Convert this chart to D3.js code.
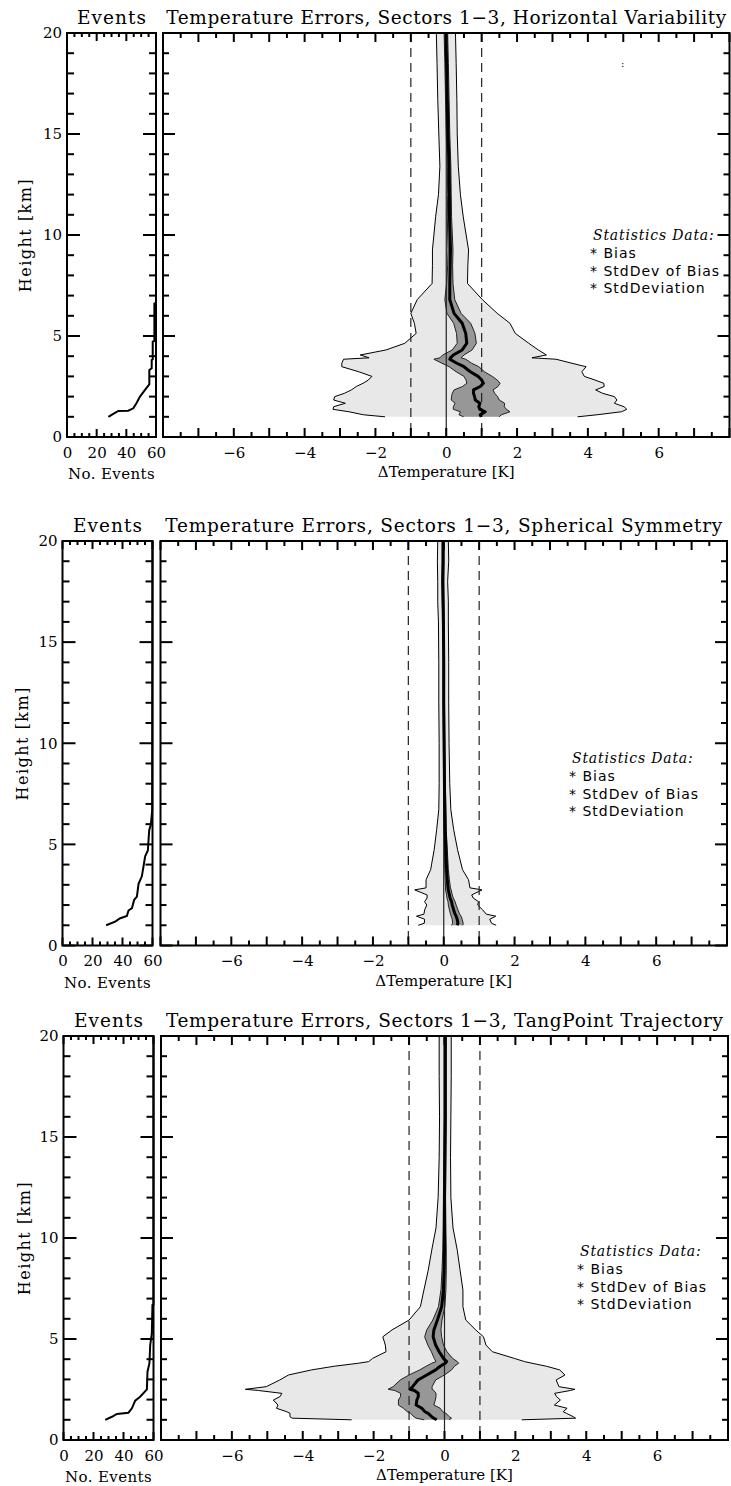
<!DOCTYPE html>
<html>
<head>
  <meta charset="utf-8">
  <title>Temperature Errors, Sectors 1-3</title>
  <script src="https://d3js.org/d3.v7.min.js"></script>
  <style>
    body { margin: 0; background: #fff; }
    text { font-family: "DejaVu Serif", serif; fill: #000; }
  </style>
</head>
<body>

  <svg width="731" height="1486"></svg>

  <script>

    // Horizontal Variability: height [km], bias, std dev of bias, std deviation [K]
    const hvHeight = [1.0, 1.1, 1.25, 1.37, 1.5, 1.67, 1.83, 2.0, 2.16, 2.33, 2.5, 2.66, 2.82, 3.0, 3.23, 3.48, 3.65, 3.85, 3.92, 4.06, 4.31, 4.64, 5.13, 5.63, 6.12, 6.8, 7.6, 8.5, 9.26, 10.9, 12.0, 13.4, 15.0, 16.7, 18.5, 20.0];
    const hvBias = [0.99, 0.96, 1.1, 0.95, 0.92, 0.95, 0.82, 0.8, 0.77, 0.77, 0.96, 1.05, 1.0, 0.9, 0.68, 0.5, 0.3, 0.1, 0.12, 0.2, 0.45, 0.58, 0.55, 0.45, 0.22, 0.1, 0.1, 0.11, 0.12, 0.09, 0.09, 0.08, 0.05, 0.03, 0.01, -0.01];
    const hvSdBias = [0.5, 0.6, 0.7, 0.75, 0.72, 0.7, 0.68, 0.65, 0.6, 0.55, 0.5, 0.47, 0.44, 0.4, 0.4, 0.42, 0.42, 0.45, 0.3, 0.3, 0.28, 0.27, 0.26, 0.24, 0.2, 0.14, 0.09, 0.07, 0.07, 0.06, 0.05, 0.05, 0.05, 0.05, 0.05, 0.05];
    const hvStd = [2.72, 3.3, 3.85, 4.15, 4.1, 3.8, 4.0, 3.95, 3.65, 3.45, 3.5, 3.4, 3.2, 3.0, 3.15, 3.45, 3.25, 3.0, 2.3, 2.63, 2.15, 1.75, 1.4, 1.35, 1.22, 0.92, 0.5, 0.5, 0.51, 0.39, 0.31, 0.26, 0.26, 0.27, 0.27, 0.27];
    const hvEvHeight = [1.0, 1.14, 1.29, 1.3, 1.42, 1.7, 2.0, 2.33, 2.54, 2.6, 3.32, 3.4, 3.81, 3.85, 4.72, 4.75, 6.6, 6.65, 20];
    const hvEvCount = [27.9, 31.2, 34.6, 41.3, 44.7, 47.0, 49.2, 52.6, 54.8, 55.5, 55.5, 57.1, 57.1, 57.8, 57.8, 58.9, 58.9, 60, 60];

    // Spherical Symmetry
    const ssHeight = [1.0, 1.1, 1.3, 1.45, 1.55, 1.76, 2.0, 2.17, 2.35, 2.5, 2.75, 2.85, 3.25, 3.75, 4.74, 5.73, 6.72, 8.0, 10.0, 12.0, 14.0, 16.0, 17.0, 18.0, 19.0, 20.0];
    const ssBias = [0.38, 0.4, 0.38, 0.35, 0.32, 0.28, 0.24, 0.22, 0.18, 0.16, 0.13, 0.12, 0.1, 0.08, 0.06, 0.04, 0.03, 0.02, 0.01, 0.0, 0.0, -0.01, -0.02, -0.03, -0.02, -0.02];
    const ssSdBias = [0.16, 0.15, 0.14, 0.14, 0.13, 0.12, 0.11, 0.1, 0.09, 0.08, 0.08, 0.07, 0.06, 0.05, 0.04, 0.03, 0.03, 0.025, 0.02, 0.02, 0.02, 0.02, 0.02, 0.02, 0.02, 0.02];
    const ssStd = [1.1, 0.95, 0.92, 1.12, 0.88, 0.82, 0.72, 0.76, 0.65, 0.63, 0.95, 0.62, 0.6, 0.45, 0.33, 0.24, 0.17, 0.15, 0.14, 0.14, 0.14, 0.14, 0.15, 0.14, 0.16, 0.15];
    const ssEvHeight = [1.0, 1.18, 1.35, 1.46, 1.73, 1.85, 2.26, 2.42, 3.05, 3.42, 3.91, 4.41, 4.7, 5.7, 5.98, 6.7, 20];
    const ssEvCount = [29.1, 35.1, 38.5, 42.9, 44.0, 46.3, 47.8, 49.6, 50.7, 52.9, 54.0, 55.1, 56.9, 57.8, 58.9, 59.8, 60];

    // TangPoint Trajectory
    const tpHeight = [1.0, 1.08, 1.15, 1.32, 1.4, 1.57, 1.73, 1.98, 2.15, 2.31, 2.45, 2.51, 2.64, 2.97, 3.22, 3.47, 3.65, 3.8, 3.88, 4.04, 4.37, 4.7, 5.11, 5.45, 5.94, 6.6, 7.43, 8.4, 9.4, 10.5, 12.0, 14.0, 16.0, 18.0, 20.0];
    const tpBias = [-0.22, -0.3, -0.36, -0.46, -0.55, -0.64, -0.8, -0.78, -0.74, -0.74, -0.85, -0.97, -0.9, -0.75, -0.5, -0.25, -0.12, 0.02, 0.06, -0.03, -0.15, -0.25, -0.32, -0.3, -0.2, -0.08, -0.03, -0.01, 0.0, 0.0, 0.0, 0.01, 0.02, 0.02, 0.02];
    const tpSdBias = [0.35, 0.5, 0.5, 0.5, 0.5, 0.52, 0.5, 0.52, 0.5, 0.5, 0.55, 0.62, 0.55, 0.5, 0.5, 0.45, 0.4, 0.38, 0.3, 0.26, 0.22, 0.22, 0.24, 0.2, 0.13, 0.09, 0.07, 0.06, 0.05, 0.04, 0.03, 0.03, 0.03, 0.03, 0.03];
    const tpStd = [2.4, 4.0, 4.0, 3.9, 3.9, 4.1, 3.9, 4.05, 3.9, 3.85, 4.4, 4.65, 4.13, 3.9, 3.9, 3.5, 3.0, 2.45, 2.2, 2.0, 1.5, 1.42, 1.42, 1.18, 0.8, 0.6, 0.55, 0.45, 0.36, 0.24, 0.18, 0.16, 0.16, 0.17, 0.17];
    const tpEvHeight = [1.0, 1.15, 1.29, 1.35, 1.57, 1.95, 2.14, 2.51, 3.38, 3.8, 4.7, 5.28, 6.68, 6.7, 20];
    const tpEvCount = [27.8, 32.3, 35.6, 43.3, 45.6, 47.8, 51.1, 55.6, 56.0, 57.3, 57.8, 58.9, 59.3, 60, 60];

    // Axis ticks and legend
    const tempMajor = d3.range(-8, 8.01, 1);
    const tempMinor = d3.range(-7.5, 8, 1);
    const tempLabels = [-6, -4, -2, 0, 2, 4, 6];
    const heightMajor = [0, 5, 10, 15, 20];
    const heightMinor = d3.range(1, 20, 1).filter(v => v % 5 !== 0);
    const eventMajor = [0, 20, 40, 60];
    const eventMinor = d3.range(5, 60, 5).filter(v => v % 20 !== 0);
    const legendItems = ["* Bias", "* StdDev of Bias", "* StdDeviation"];

    const panels = [
      { title: "Temperature Errors, Sectors 1\u22123, Horizontal Variability", titleWidth: 560,
        top: 33, bottom: 437, evLeft: 67, evRight: 156, left: 163, right: 729.5,
        yLabelX: 25, legendX: 590, legendY: 235,
        height: hvHeight, bias: hvBias, sdBias: hvSdBias, std: hvStd,
        evHeight: hvEvHeight, evCount: hvEvCount },
      { title: "Temperature Errors, Sectors 1\u22123, Spherical Symmetry", titleWidth: 557,
        top: 541, bottom: 945.5, evLeft: 62.5, evRight: 152.5, left: 160.5, right: 727,
        yLabelX: 22, legendX: 569, legendY: 758,
        height: ssHeight, bias: ssBias, sdBias: ssSdBias, std: ssStd,
        evHeight: ssEvHeight, evCount: ssEvCount },
      { title: "Temperature Errors, Sectors 1\u22123, TangPoint Trajectory", titleWidth: 557,
        top: 1036, bottom: 1440, evLeft: 63.5, evRight: 153.5, left: 161, right: 728,
        yLabelX: 24, legendX: 577, legendY: 1251,
        height: tpHeight, bias: tpBias, sdBias: tpSdBias, std: tpStd,
        evHeight: tpEvHeight, evCount: tpEvCount }
    ];

    const svg = d3.select("svg");
    const fmt = d3.format("d");

    // tick labels through d3 axes (tick marks drawn separately)
    function labels(g, axis, values, labelFn, pad) {
      g.call(axis.tickValues(values).tickSize(0).tickPadding(pad).tickFormat(labelFn))
        .call(s => s.select(".domain").remove())
        .call(s => s.selectAll(".tick line").remove());
      g.selectAll(".tick text").style("font-family", "DejaVu Serif").style("font-size", "15px");
    }

    // inward tick marks on one side of a frame
    function marks(g, scale, values, side, pos, len) {
      const vertical = side === "left" || side === "right";
      const dir = (side === "bottom" || side === "right") ? -1 : 1;
      g.append("g").selectAll("line").data(values).join("line")
        .attr("x1", d => vertical ? pos : scale(d))
        .attr("x2", d => vertical ? pos + dir * len : scale(d))
        .attr("y1", d => vertical ? scale(d) : pos)
        .attr("y2", d => vertical ? scale(d) : pos + dir * len)
        .attr("stroke", "#000").attr("stroke-width", 2);
    }

    panels.forEach(p => {
      const x = d3.scaleLinear().domain([-8, 8]).range([p.left, p.right]);
      const y = d3.scaleLinear().domain([0, 20]).range([p.bottom, p.top]);
      const ev = d3.scaleLinear().domain([0, 60]).range([p.evLeft, p.evRight]);

      const rows = p.height.map((h, i) => ({ h, b: p.bias[i], sb: p.sdBias[i], s: p.std[i] }));
      const evRows = p.evHeight.map((h, i) => ({ h, n: p.evCount[i] }));

      // ---- main panel ----
      const main = svg.append("g");

      main.append("path").datum(rows)
        .attr("fill", "#e8e8e8")
        .attr("d", d3.area().y(d => y(d.h)).x0(d => x(d.b - d.s)).x1(d => x(d.b + d.s)));
      [-1, 1].forEach(sign => {
        main.append("path").datum(rows)
          .attr("fill", "none").attr("stroke", "#000").attr("stroke-width", 1)
          .attr("d", d3.line().y(d => y(d.h)).x(d => x(d.b + sign * d.s)));
      });

      main.append("path").datum(rows)
        .attr("fill", "#979797")
        .attr("d", d3.area().y(d => y(d.h)).x0(d => x(d.b - d.sb)).x1(d => x(d.b + d.sb)));
      [-1, 1].forEach(sign => {
        main.append("path").datum(rows)
          .attr("fill", "none").attr("stroke", "#222").attr("stroke-width", 1)
          .attr("d", d3.line().y(d => y(d.h)).x(d => x(d.b + sign * d.sb)));
      });

      // reference lines
      [-1, 1].forEach(v => {
        main.append("line")
          .attr("x1", x(v)).attr("x2", x(v)).attr("y1", y(20)).attr("y2", y(0))
          .attr("stroke", "#222").attr("stroke-width", 1.2).attr("stroke-dasharray", "9,6");
      });
      main.append("line")
        .attr("x1", x(0)).attr("x2", x(0)).attr("y1", y(20)).attr("y2", y(0))
        .attr("stroke", "#222").attr("stroke-width", 1.2);

      main.append("path").datum(rows)
        .attr("fill", "none").attr("stroke", "#000").attr("stroke-width", 3)
        .attr("stroke-linejoin", "round")
        .attr("d", d3.line().y(d => y(d.h)).x(d => x(d.b)));

      // axes of the main panel
      labels(main.append("g").attr("transform", `translate(0,${p.bottom})`), d3.axisBottom(x),
        tempLabels, fmt, 10);
      marks(main, x, tempMajor, "bottom", p.bottom, 9);
      marks(main, x, tempMinor, "bottom", p.bottom, 5);
      marks(main, x, tempMajor, "top", p.top, 9);
      marks(main, x, tempMinor, "top", p.top, 5);
      marks(main, y, heightMajor, "left", p.left, 12);
      marks(main, y, heightMinor, "left", p.left, 6);
      marks(main, y, heightMajor, "right", p.right, 12);
      marks(main, y, heightMinor, "right", p.right, 6);

      main.append("rect")
        .attr("x", p.left).attr("y", p.top)
        .attr("width", p.right - p.left).attr("height", p.bottom - p.top)
        .attr("fill", "none").attr("stroke", "#000").attr("stroke-width", 2);

      main.append("text")
        .attr("x", (p.left + p.right) / 2).attr("y", p.top - 9)
        .attr("text-anchor", "middle").style("font-size", "18.5px")
        .attr("textLength", p.titleWidth).attr("lengthAdjust", "spacing")
        .text(p.title);

      main.append("text")
        .attr("x", (p.left + p.right) / 2).attr("y", p.bottom + 40)
        .attr("text-anchor", "middle").style("font-size", "15px")
        .text("\u0394Temperature [K]");

      // legend
      const leg = main.append("g").attr("transform", `translate(${p.legendX},${p.legendY})`);
      leg.append("text").attr("x", 3).attr("y", 5)
        .style("font-size", "14px").style("font-style", "italic").style("letter-spacing", "0.8px")
        .text("Statistics Data:");
      legendItems.forEach((t, i) => {
        leg.append("text").attr("x", 0).attr("y", 23 + i * 17.6)
          .style("font-family", "DejaVu Sans").style("font-size", "14px").style("letter-spacing", "1px")
          .text(t);
      });

      // ---- events panel ----
      const evg = svg.append("g");
      evg.append("path").datum(evRows)
        .attr("fill", "none").attr("stroke", "#000").attr("stroke-width", 2)
        .attr("d", d3.line().y(d => y(d.h)).x(d => ev(d.n)));

      labels(evg.append("g").attr("transform", `translate(0,${p.bottom})`), d3.axisBottom(ev),
        eventMajor, fmt, 10);
      labels(evg.append("g").attr("transform", `translate(${p.evLeft},0)`), d3.axisLeft(y),
        heightMajor, fmt, 5);
      marks(evg, ev, eventMajor, "bottom", p.bottom, 8);
      marks(evg, ev, eventMinor, "bottom", p.bottom, 4);
      marks(evg, ev, eventMajor, "top", p.top, 8);
      marks(evg, ev, eventMinor, "top", p.top, 4);
      marks(evg, y, heightMajor, "left", p.evLeft, 13);
      marks(evg, y, heightMinor, "left", p.evLeft, 7);
      marks(evg, y, heightMajor, "right", p.evRight, 13);
      marks(evg, y, heightMinor, "right", p.evRight, 7);

      evg.append("rect")
        .attr("x", p.evLeft).attr("y", p.top)
        .attr("width", p.evRight - p.evLeft).attr("height", p.bottom - p.top)
        .attr("fill", "none").attr("stroke", "#000").attr("stroke-width", 2);

      evg.append("text")
        .attr("x", (p.evLeft + p.evRight) / 2).attr("y", p.top - 9)
        .attr("text-anchor", "middle").style("font-size", "18.5px")
        .attr("textLength", 69).attr("lengthAdjust", "spacing")
        .text("Events");

      evg.append("text")
        .attr("x", (p.evLeft + p.evRight) / 2).attr("y", p.bottom + 42)
        .attr("text-anchor", "middle").style("font-size", "15px").style("letter-spacing", "0.4px")
        .text("No. Events");

      evg.append("text")
        .attr("transform", `translate(${p.yLabelX},${(p.top + p.bottom) / 2}) rotate(-90)`)
        .attr("text-anchor", "middle").attr("dy", "0.35em").style("font-size", "16px")
        .style("letter-spacing", "1.5px")
        .text("Height [km]");
    });

    // stray mark in the top panel
    svg.append("text").attr("x", 621).attr("y", 67)
      .style("font-size", "10px").text(":");

  </script>

</body>
</html>
